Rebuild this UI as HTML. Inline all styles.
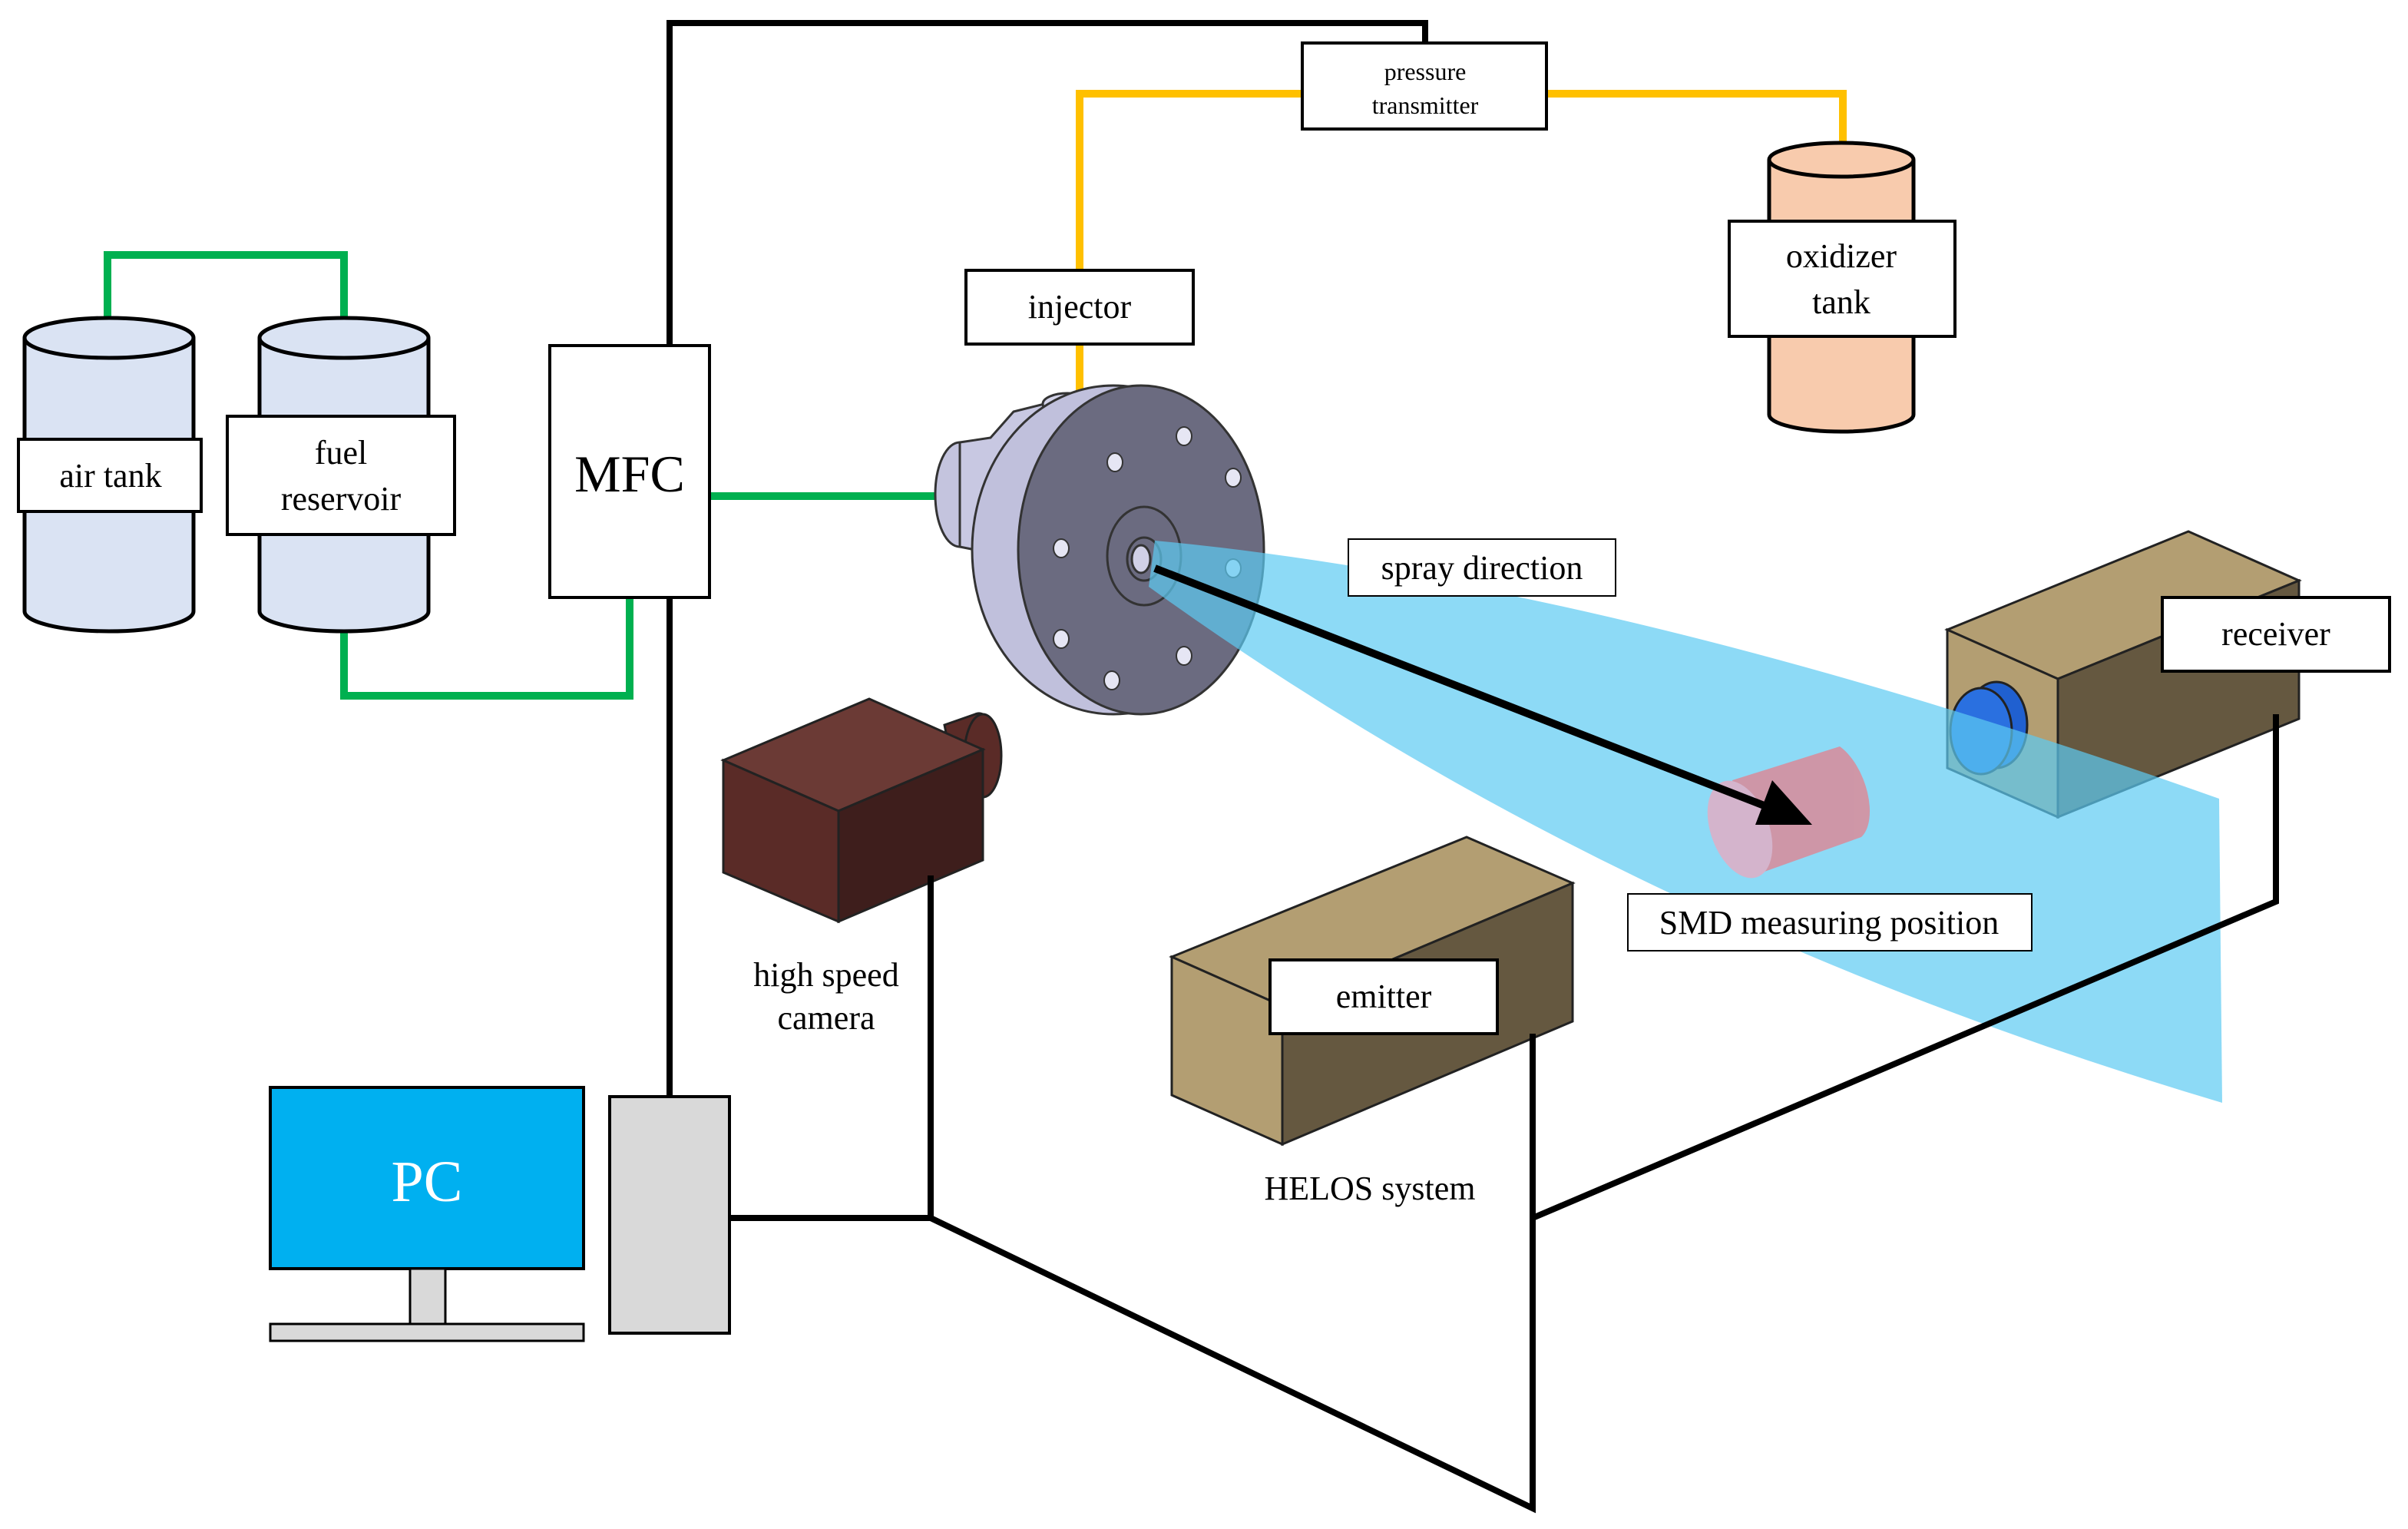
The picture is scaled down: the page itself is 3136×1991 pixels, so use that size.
<!DOCTYPE html>
<html><head><meta charset="utf-8"><style>
html,body{margin:0;padding:0;background:#fff;}
svg{display:block;}
</style></head><body>
<svg width="3136" height="1991" viewBox="0 0 1568 995.5" xmlns="http://www.w3.org/2000/svg" font-family="'Liberation Serif', serif">
<rect width="1568" height="995.5" fill="#fff"/>
<!-- orange -->
<g fill="none" stroke="#ffc000" stroke-width="5">
<polyline points="848,61 703,61 703,176"/>
<polyline points="703,224 703,268"/>
<polyline points="1007,61 1200,61 1200,96"/>
</g>
<!-- green -->
<g fill="none" stroke="#00b050" stroke-width="5">
<polyline points="70,210 70,166 224,166 224,210"/>
<polyline points="224,405 224,453 410,453 410,389"/>
<polyline points="462,323 612,323"/>
</g>
<!-- tanks -->
<g stroke="#000" stroke-width="2.5">
<path d="M16,220 L16,398 A55,13 0 0 0 126,398 L126,220" fill="#dae3f3"/>
<ellipse cx="71" cy="220" rx="55" ry="13" fill="#dae3f3"/>
<path d="M169,220 L169,398 A55,13 0 0 0 279,398 L279,220" fill="#dae3f3"/>
<ellipse cx="224" cy="220" rx="55" ry="13" fill="#dae3f3"/>
<path d="M1152,104 L1152,270 A47,11 0 0 0 1246,270 L1246,104" fill="#f8cbad"/>
<ellipse cx="1199" cy="104" rx="47" ry="11" fill="#f8cbad"/>
</g>
<!-- injector -->
<g stroke="#333" stroke-width="1.5">
<ellipse cx="625" cy="322" rx="16" ry="34" fill="#c4c4de"/>
<path d="M625,288 L645,285 L660,268 L700,258 L720,400 L680,385 L645,360 L625,356 Z" fill="#c8c8e2"/>
<ellipse cx="695" cy="263" rx="16" ry="7" fill="#d4d4ea"/>
<ellipse cx="725" cy="358" rx="92" ry="107" fill="#c0c0dc"/>
<ellipse cx="743" cy="358" rx="80" ry="107" fill="#6b6b80"/>
<ellipse cx="745" cy="362" rx="24" ry="32" fill="none"/>
<ellipse cx="745" cy="364" rx="11" ry="14" fill="none"/>
<ellipse cx="743" cy="364" rx="6" ry="9" fill="#d0d0e6"/>
</g>
<g fill="#e6e6f4" stroke="#333" stroke-width="1">
<ellipse cx="771" cy="284" rx="5" ry="6"/><ellipse cx="726" cy="301" rx="5" ry="6"/><ellipse cx="803" cy="311" rx="5" ry="6"/>
<ellipse cx="691" cy="357" rx="5" ry="6"/><ellipse cx="803" cy="370" rx="5" ry="6"/><ellipse cx="691" cy="416" rx="5" ry="6"/>
<ellipse cx="771" cy="427" rx="5" ry="6"/><ellipse cx="724" cy="443" rx="5" ry="6"/>
</g>
<!-- receiver -->
<g stroke="#222" stroke-width="1.5">
<polygon points="1268,410 1425,346 1497,378 1340,442" fill="#b39e72"/>
<polygon points="1340,442 1497,378 1497,468 1340,532" fill="#655840"/>
<polygon points="1268,410 1340,442 1340,532 1268,500" fill="#b39e72"/>
<ellipse cx="1300" cy="472" rx="20" ry="28" fill="#2060d0"/>
<ellipse cx="1290" cy="476" rx="20" ry="28" fill="#2a70e0"/>
</g>
<!-- spray cone -->
<path d="M752,352 Q1050,380 1445,520 L1447,718 Q1050,600 748,382 Z" fill="#5ccbf2" opacity="0.7"/>
<!-- black wires -->
<g fill="none" stroke="#000" stroke-width="4">
<polyline points="436,225 436,15 928,15 928,28"/>
<polyline points="436,389 436,714"/>
<polyline points="475,793 606,793 998,982 998,673"/>
<polyline points="606,570 606,793"/>
<polyline points="998,793 1482,587 1482,465"/>
</g>
<!-- pink cylinder -->
<g opacity="0.9">
<path d="M1128,508 L1198,486 A18,34 -20 0 1 1212,545 L1142,570 Z" fill="#d68f9f"/>
<ellipse cx="1133" cy="540" rx="19" ry="33" transform="rotate(-20 1133 540)" fill="#dcb0c8"/>
</g>
<!-- arrow -->
<line x1="752" y1="370" x2="1150" y2="525" stroke="#000" stroke-width="5"/>
<polygon points="1180,537 1143,537 1154,508" fill="#000"/>
<!-- emitter -->
<g stroke="#222" stroke-width="1.5">
<polygon points="763,623 955,545 1024,575 835,655" fill="#b39e72"/>
<polygon points="835,655 1024,575 1024,665 835,745" fill="#655840"/>
<polygon points="763,623 835,655 835,745 763,713" fill="#b39e72"/>
</g>
<line x1="998" y1="673" x2="998" y2="700" stroke="#000" stroke-width="4"/>
<!-- camera -->
<g stroke="#222" stroke-width="1.5">
<path d="M615,472 L635,465 A12,26 0 0 1 640,518 L625,522 Z" fill="#5a2b27"/>
<ellipse cx="640" cy="492" rx="12" ry="27" fill="#5a2b27"/>
<polygon points="471,495 566,455 640,488 546,528" fill="#6b3a35"/>
<polygon points="546,528 640,488 640,560 546,600" fill="#3e1e1c"/>
<polygon points="471,495 546,528 546,600 471,568" fill="#5a2b27"/>
</g>
<line x1="606" y1="570" x2="606" y2="600" stroke="#000" stroke-width="4"/>
<!-- PC -->
<rect x="176" y="708" width="204" height="118" fill="#00b0f0" stroke="#000" stroke-width="2"/>
<rect x="267" y="826" width="23" height="36" fill="#d9d9d9" stroke="#000" stroke-width="1.5"/>
<rect x="176" y="862" width="204" height="11" fill="#d9d9d9" stroke="#000" stroke-width="1.5"/>
<rect x="397" y="714" width="78" height="154" fill="#d9d9d9" stroke="#000" stroke-width="2"/>
<text x="278" y="782" font-size="38" fill="#fff" text-anchor="middle">PC</text>
<!-- label boxes -->
<g fill="#fff" stroke="#000" stroke-width="2">
<rect x="848" y="28" width="159" height="56"/>
<rect x="629" y="176" width="148" height="48"/>
<rect x="1126" y="144" width="147" height="75"/>
<rect x="12" y="286" width="119" height="47"/>
<rect x="148" y="271" width="148" height="77"/>
<rect x="358" y="225" width="104" height="164"/>
<rect x="878" y="351" width="174" height="37" stroke-width="1"/>
<rect x="1408" y="389" width="148" height="48"/>
<rect x="1060" y="582" width="263" height="37" stroke-width="1"/>
<rect x="827" y="625" width="148" height="48"/>
</g>
<g font-size="22" text-anchor="middle" fill="#000" font-family="'Liberation Serif', serif">
<text x="928" y="52" font-size="16">pressure</text>
<text x="928" y="74" font-size="16">transmitter</text>
<text x="703" y="207">injector</text>
<text x="1199" y="174">oxidizer</text>
<text x="1199" y="204">tank</text>
<text x="72" y="317">air tank</text>
<text x="222" y="302">fuel</text>
<text x="222" y="332">reservoir</text>
<text x="410" y="320" font-size="34">MFC</text>
<text x="965" y="377">spray direction</text>
<text x="1482" y="420">receiver</text>
<text x="1191" y="608">SMD measuring position</text>
<text x="901" y="656">emitter</text>
<text x="538" y="642">high speed</text>
<text x="538" y="670">camera</text>
<text x="892" y="781">HELOS system</text>
</g>
</svg>
</body></html>
